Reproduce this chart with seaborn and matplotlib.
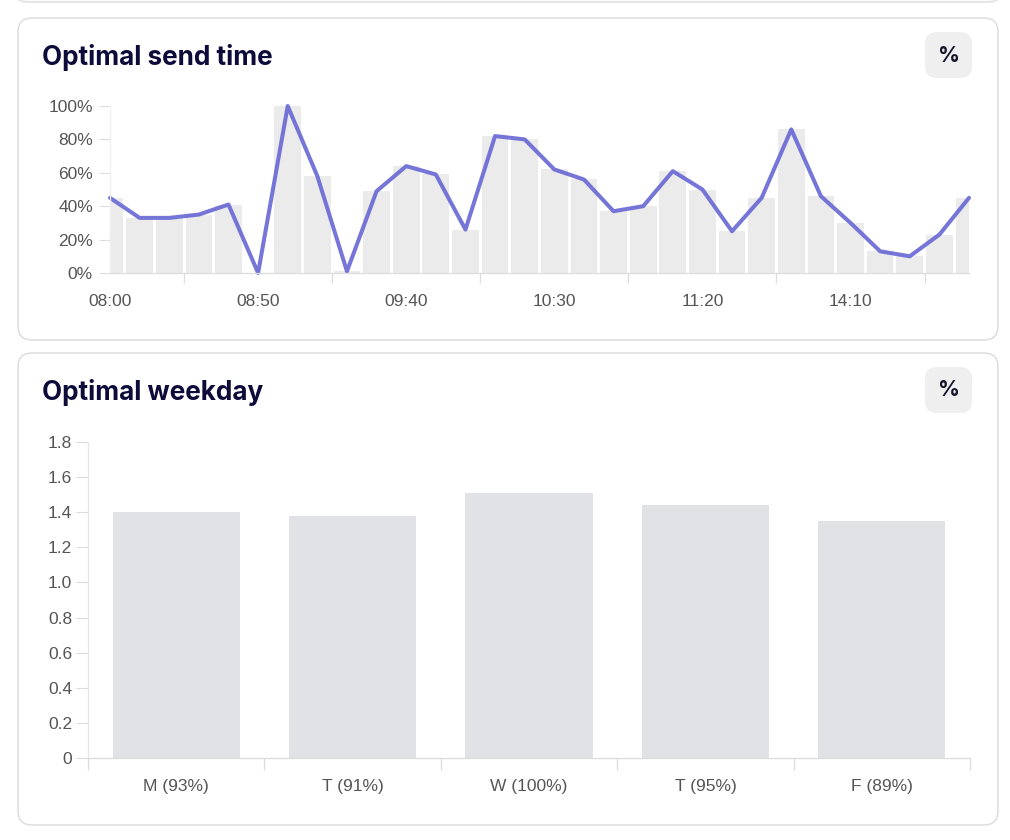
import matplotlib.pyplot as plt
import numpy as np
import pandas as pd
import seaborn as sns
from matplotlib.patches import FancyBboxPatch
from matplotlib.ticker import FuncFormatter

# send time slots (only every 5th label is shown on the axis)
slots = [
    "08:00", "08:10", "08:20", "08:30", "08:40", "08:50", "09:00", "09:10", "09:20", "09:30",
    "09:40", "09:50", "10:00", "10:10", "10:20", "10:30", "10:40", "10:50", "11:00", "11:10",
    "11:20", "11:30", "13:40", "13:50", "14:00", "14:10", "14:20", "14:30", "14:40", "14:50",
]
share = [45, 33, 33, 35, 41, 0, 100, 58, 1, 49,
         64, 59, 26, 82, 80, 62, 56, 37, 40, 61,
         50, 25, 45, 86, 46, 30, 13, 10, 23, 45]

weekdays = ["M (93%)", "T (91%)", "W (100%)", "T (95%)", "F (89%)"]
weekday_score = [1.40, 1.38, 1.51, 1.44, 1.35]

df_time = pd.DataFrame({"slot": slots, "share": share, "pos": np.arange(len(slots))})
df_day = pd.DataFrame({"day": weekdays, "score": weekday_score})

sns.set_style("white")
plt.rcParams["font.family"] = ["Liberation Sans", "DejaVu Sans"]

W, H = 1010, 840
fig = plt.figure(figsize=(W / 100, H / 100), dpi=100)
fig.patch.set_facecolor("white")

# background layer in pixel coordinates for the cards
bg = fig.add_axes([0, 0, 1, 1], zorder=0)
bg.set_xlim(0, W)
bg.set_ylim(H, 0)
bg.axis("off")

# bottom edge of a card above
bg.add_patch(FancyBboxPatch((14, -40), 988, 42, boxstyle="round,pad=0,rounding_size=14",
                            fc="white", ec="#e6e6e6", lw=1.6))

for top, h, title in [(18, 322, "Optimal send time"), (353, 472, "Optimal weekday")]:
    bg.add_patch(FancyBboxPatch((18, top), 980, h, boxstyle="round,pad=0,rounding_size=14",
                                fc="white", ec="#dadada", lw=1))
    bg.text(42, top + 47, title, fontsize=18.8, fontweight="bold", color="#0c0b3a",
            family=["Inter", "DejaVu Sans"], va="baseline", ha="left")
    bg.add_patch(FancyBboxPatch((925, top + 14), 47, 46, boxstyle="round,pad=0,rounding_size=12",
                                fc="#efefef", ec="none"))
    bg.text(948.5, top + 37.5, "%", fontsize=15.5, fontweight="bold", color="#14142b",
            family=["Inter", "DejaVu Sans"], va="center", ha="center")

tick_color = "#555555"
axis_color = "#dcdcdc"

# --- Optimal send time ---
ax1 = fig.add_axes([110 / W, 1 - 273 / H, 859 / W, 167 / H], zorder=1)
ax1.set_facecolor("none")
sns.barplot(data=df_time, x="slot", y="share", color="#ebebeb", saturation=1,
            width=0.9, linewidth=0, ax=ax1)
sns.lineplot(data=df_time, x="pos", y="share", color="#6a6ad6", linewidth=2.9,
             alpha=0.92, ax=ax1)
for ln in ax1.lines:
    ln.set_solid_joinstyle("round")
    ln.set_solid_capstyle("round")
    ln.set_clip_on(False)

ax1.set_xlim(0, len(slots) - 1)
ax1.set_ylim(0, 100)
ax1.set_xticks(range(0, len(slots), 5))
ax1.set_xticklabels(slots[::5])
ax1.set_xticks(np.arange(2.5, len(slots), 5), minor=True)
ax1.set_yticks(range(0, 101, 20))
ax1.yaxis.set_major_formatter(FuncFormatter(lambda v, p: f"{v:.0f}%"))
ax1.tick_params(axis="x", which="major", length=0, pad=15, labelsize=12.5, labelcolor=tick_color)
ax1.tick_params(axis="x", which="minor", length=7.5, width=0.9, color=axis_color, direction="out",
                bottom=True)
ax1.tick_params(axis="y", length=8, width=0.8, color=axis_color, pad=4.3,
                labelsize=12.5, labelcolor=tick_color, left=True)
ax1.set_xlabel("")
ax1.set_ylabel("")
for s in ["top", "right"]:
    ax1.spines[s].set_visible(False)
ax1.spines["bottom"].set_color(axis_color)
ax1.spines["left"].set_color("#f0f0f0")
ax1.spines["bottom"].set_linewidth(0.9)
ax1.spines["left"].set_linewidth(0.9)

# --- Optimal weekday ---
ax2 = fig.add_axes([88 / W, 1 - 758.3 / H, 882 / W, 316.6 / H], zorder=1)
ax2.set_facecolor("none")
sns.barplot(data=df_day, x="day", y="score", color="#e1e2e6", saturation=1,
            width=0.72, linewidth=0, ax=ax2)
ax2.set_xlim(-0.5, len(weekdays) - 0.5)
ax2.set_ylim(0, 1.8)
ax2.set_yticks(np.arange(0, 1.81, 0.2))
ax2.yaxis.set_major_formatter(FuncFormatter(lambda v, p: "0" if abs(v) < 1e-9 else f"{v:.1f}"))
ax2.set_xticks(np.arange(-0.5, len(weekdays), 1), minor=True)
ax2.tick_params(axis="x", which="major", length=0, pad=15, labelsize=12.5, labelcolor=tick_color)
ax2.tick_params(axis="x", which="minor", length=8.5, width=0.9, color=axis_color, direction="out",
                bottom=True)
ax2.tick_params(axis="y", length=8.5, width=0.8, color=axis_color, pad=3,
                labelsize=12.5, labelcolor=tick_color, left=True)
ax2.set_xlabel("")
ax2.set_ylabel("")
for s in ["top", "right"]:
    ax2.spines[s].set_visible(False)
ax2.spines["bottom"].set_color(axis_color)
ax2.spines["left"].set_color("#e6e6e6")
ax2.spines["bottom"].set_linewidth(0.9)
ax2.spines["left"].set_linewidth(0.9)

plt.savefig("out.png", dpi=100)
